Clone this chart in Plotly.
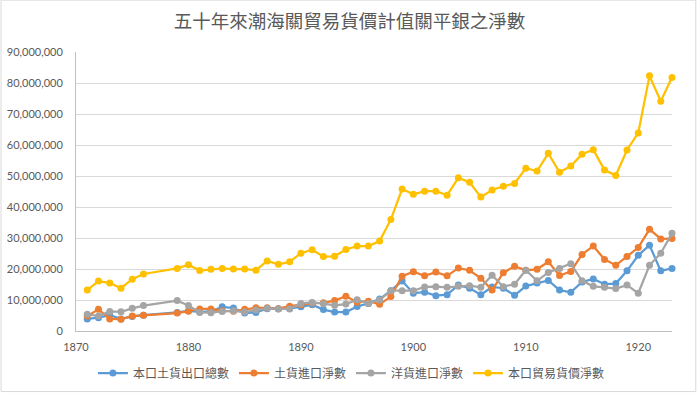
import plotly.graph_objects as go

years = [1871, 1872, 1873, 1874, 1875, 1876,
         1879, 1880, 1881, 1882, 1883, 1884, 1885, 1886, 1887, 1888, 1889,
         1890, 1891, 1892, 1893, 1894, 1895, 1896, 1897, 1898, 1899,
         1900, 1901, 1902, 1903, 1904, 1905, 1906, 1907, 1908, 1909,
         1910, 1911, 1912, 1913, 1914, 1915, 1916, 1917, 1918, 1919,
         1920, 1921, 1922, 1923]

# values in millions of taels
native_export = [3.9, 4.3, 5.1, 3.9, 4.7, 5.1,
                 6.0, 6.5, 6.2, 6.3, 7.8, 7.4, 5.8, 6.0, 7.2, 7.2, 7.3,
                 7.8, 8.5, 6.9, 6.1, 6.1, 7.9, 8.9, 10.3, 13.0, 16.1,
                 12.2, 12.5, 11.4, 11.7, 14.8, 13.8, 11.7, 14.2, 13.8, 11.5,
                 14.5, 15.5, 16.3, 13.2, 12.5, 15.8, 16.8, 15.1, 15.3, 19.4,
                 24.4, 27.7, 19.4, 20.2]

native_import = [4.8, 7.0, 3.9, 3.8, 4.8, 5.1,
                 5.8, 6.4, 7.1, 7.1, 6.5, 6.4, 7.0, 7.5, 7.5, 7.2, 8.0,
                 8.5, 9.0, 9.1, 9.8, 11.2, 9.3, 9.6, 8.6, 11.1, 17.7,
                 19.1, 17.8, 19.0, 17.8, 20.3, 19.6, 17.0, 13.2, 18.8, 20.9,
                 19.6, 19.9, 22.3, 17.9, 19.2, 24.7, 27.4, 23.1, 21.2, 24.0,
                 26.9, 32.8, 29.7, 29.8]

foreign_import = [5.4, 4.8, 6.3, 6.2, 7.3, 8.2,
                  9.8, 8.2, 6.0, 5.9, 6.3, 6.5, 6.1, 6.8, 7.3, 7.1, 7.1,
                  8.9, 9.2, 8.8, 8.3, 8.7, 10.1, 8.9, 10.0, 13.0, 13.0,
                  13.0, 14.2, 14.3, 14.1, 14.4, 14.6, 14.1, 18.0, 14.3, 15.1,
                  19.6, 16.2, 18.9, 20.2, 21.7, 16.2, 14.4, 14.1, 13.7, 14.8,
                  12.2, 21.2, 25.1, 31.5]

total_trade = [13.2, 16.1, 15.5, 13.8, 16.7, 18.4,
               20.2, 21.4, 19.5, 19.9, 20.2, 20.0, 20.0, 19.6, 22.6, 21.5, 22.3,
               25.1, 26.2, 24.0, 24.1, 26.3, 27.4, 27.4, 29.0, 36.0, 45.8,
               44.1, 45.1, 45.1, 43.8, 49.4, 48.0, 43.2, 45.5, 46.7, 47.6,
               52.5, 51.6, 57.3, 51.2, 53.2, 57.0, 58.5, 51.9, 50.2, 58.4,
               63.9, 82.3, 74.1, 81.8]

series_names = ["本口土貨出口總數", "土貨進口淨數", "洋貨進口淨數", "本口貿易貨價淨數"]
series_values = [native_export, native_import, foreign_import, total_trade]
series_colors = ["#5B9BD5", "#ED7D31", "#A5A5A5", "#FFC000"]

title_text = "五十年來潮海關貿易貨價計值關平銀之淨數"

fig = go.Figure()
for name, vals, col in zip(series_names, series_values, series_colors):
    fig.add_trace(go.Scatter(
        x=years, y=[v * 1_000_000 for v in vals], name=name,
        mode="lines+markers",
        line=dict(color=col, width=2.25),
        marker=dict(color=col, size=7),
        cliponaxis=False,
    ))

W, H = 699, 393
L, R, T, B = 75.5, 27.3, 52.3, 62
pw, ph = W - L - R, H - T - B

def px_x(x):
    return (x - L) / pw

def px_y(y):
    return (H - B - y) / ph

fig.update_layout(
    template="none",
    width=W, height=H,
    margin=dict(l=L, r=R, t=T, b=B, pad=0, autoexpand=False),
    paper_bgcolor="white", plot_bgcolor="white",
    title=dict(text=title_text, x=0.5, xref="container", xanchor="center",
               y=1 - 22 / H, yref="container", yanchor="middle",
               font=dict(family="Noto Sans CJK TC", size=18.5, color="#595959")),
    showlegend=True,
    legend=dict(orientation="h", x=px_x(351), xanchor="center",
                y=px_y(373), yanchor="middle",
                font=dict(family="Noto Sans CJK TC", size=12, color="#595959"),
                bgcolor="rgba(0,0,0,0)", itemwidth=30),
    font=dict(family="Lato", size=11, color="#595959"),
    shapes=[dict(type="rect", xref="paper", yref="paper",
                 x0=px_x(0.5), x1=px_x(695.5), y0=px_y(391.5), y1=px_y(0.5),
                 line=dict(color="#D9D9D9", width=1), layer="below")],
)

fig.update_xaxes(range=[1870, 1923], tick0=1870, dtick=10, automargin=False,
                 showgrid=False, zeroline=False,
                 showline=True, linecolor="#BFBFBF", linewidth=1,
                 ticks="", tickfont=dict(family="Lato", size=11, color="#595959"),
                 ticklabelstandoff=6)
fig.update_yaxes(range=[0, 90_000_000], dtick=10_000_000, automargin=False,
                 tickformat=",d",
                 showgrid=True, gridcolor="#D9D9D9", gridwidth=1,
                 zeroline=False,
                 showline=True, linecolor="#BFBFBF", linewidth=1,
                 ticks="", tickfont=dict(family="Lato", size=11, color="#595959"),
                 ticklabelstandoff=10)

fig.write_html("out.html", config={"displayModeBar": False},
               post_script="document.body.style.margin='0px';")
